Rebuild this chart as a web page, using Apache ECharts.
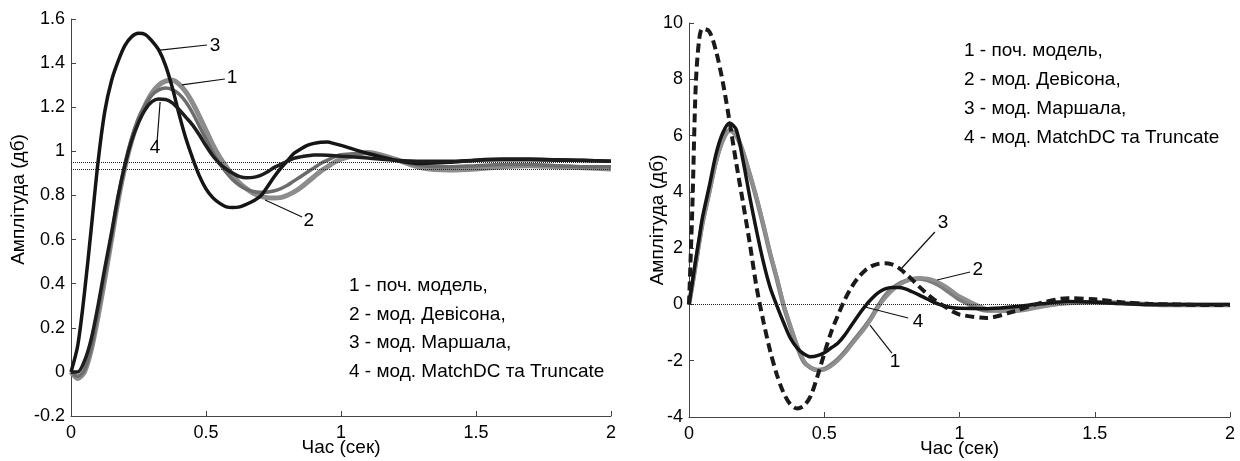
<!DOCTYPE html>
<html>
<head>
<meta charset="utf-8">
<title>Перехідні характеристики моделей</title>
<script src="https://cdn.jsdelivr.net/npm/echarts@6/dist/echarts.min.js"></script>
<style>
  html, body { margin: 0; padding: 0; background: #fff; }
  #chart { width: 1240px; height: 461px; }
</style>
</head>
<body>
<div id="chart"></div>
<script>
// час (сек), ліва панель
const tL = [0, 0.025, 0.05, 0.075, 0.1, 0.125, 0.15, 0.175, 0.2, 0.225,
  0.25, 0.275, 0.3, 0.325, 0.35, 0.375, 0.4, 0.425, 0.45, 0.475,
  0.5, 0.525, 0.55, 0.575, 0.6, 0.625, 0.65, 0.675, 0.7, 0.725,
  0.75, 0.775, 0.8, 0.825, 0.85, 0.875, 0.9, 0.925, 0.95, 0.975,
  1.0, 1.1, 1.2, 1.3, 1.4, 1.5, 1.6, 1.7, 1.8, 1.9, 2.0]

// 1 - поч. модель
const left1 = [0, -0.03, 0, 0.1, 0.25, 0.42, 0.6, 0.78, 0.93, 1.05,
  1.14, 1.21, 1.265, 1.3, 1.318, 1.322, 1.305, 1.27, 1.22, 1.16,
  1.095, 1.03, 0.975, 0.93, 0.89, 0.855, 0.83, 0.81, 0.798, 0.79,
  0.788, 0.79, 0.8, 0.815, 0.835, 0.86, 0.885, 0.91, 0.93, 0.95,
  0.965, 0.995, 0.965, 0.925, 0.915, 0.92, 0.93, 0.935, 0.93, 0.925, 0.92]
// 2 - мод. Девісона
const left2 = [0, -0.02, 0.01, 0.11, 0.27, 0.44, 0.61, 0.79, 0.94, 1.06,
  1.15, 1.21, 1.255, 1.278, 1.287, 1.28, 1.26, 1.225, 1.175, 1.115,
  1.055, 0.995, 0.945, 0.905, 0.87, 0.845, 0.828, 0.818, 0.815, 0.815,
  0.82, 0.83, 0.845, 0.865, 0.885, 0.905, 0.925, 0.945, 0.96, 0.975,
  0.985, 0.99, 0.96, 0.935, 0.93, 0.935, 0.94, 0.94, 0.935, 0.93, 0.93]
// 3 - мод. Маршала
const left3 = [0, 0.12, 0.36, 0.65, 0.95, 1.18, 1.32, 1.41, 1.48, 1.52,
  1.535, 1.53, 1.5, 1.46, 1.39, 1.29, 1.17, 1.06, 0.97, 0.89,
  0.83, 0.79, 0.765, 0.748, 0.745, 0.748, 0.76, 0.775, 0.795, 0.835,
  0.88, 0.92, 0.955, 0.99, 1.01, 1.027, 1.036, 1.041, 1.042, 1.035,
  1.027, 0.99, 0.96, 0.945, 0.95, 0.96, 0.965, 0.965, 0.962, 0.96, 0.955]
// 4 - мод. MatchDC та Truncate
const left4 = [0, 0, 0.05, 0.15, 0.3, 0.47, 0.63, 0.8, 0.94, 1.05,
  1.13, 1.19, 1.225, 1.237, 1.235, 1.22, 1.19, 1.155, 1.12, 1.075,
  1.025, 0.98, 0.945, 0.92, 0.9, 0.885, 0.88, 0.882, 0.89, 0.905,
  0.925, 0.94, 0.955, 0.968, 0.975, 0.98, 0.983, 0.983, 0.982, 0.98,
  0.978, 0.97, 0.96, 0.955, 0.955, 0.96, 0.962, 0.962, 0.96, 0.958, 0.955]

// час (сек), права панель
const tR = [0, 0.0125, 0.025, 0.0375, 0.05,
  0.075, 0.1, 0.125, 0.15, 0.175, 0.2, 0.225, 0.25, 0.275, 0.3,
  0.325, 0.35, 0.375, 0.4, 0.425, 0.45, 0.475, 0.5, 0.525, 0.55,
  0.575, 0.6, 0.625, 0.65, 0.675, 0.7, 0.725, 0.75, 0.775, 0.8,
  0.825, 0.85, 0.875, 0.9, 0.925, 0.95, 0.975, 1.0,
  1.1, 1.2, 1.3, 1.4, 1.5, 1.6, 1.7, 1.8, 1.9, 2.0]

const right1 = [0, 0.7, 1.45, 2.2, 2.9,
  4.0, 5.1, 5.85, 6.2, 6.0, 5.4, 4.6, 3.75, 2.8, 1.8,
  0.9, -0.05, -0.8, -1.5, -2.05, -2.25, -2.33, -2.3, -2.15, -1.95,
  -1.7, -1.4, -1.1, -0.8, -0.45, -0.05, 0.3, 0.55, 0.72, 0.83,
  0.9, 0.92, 0.88, 0.8, 0.68, 0.52, 0.35, 0.18,
  -0.22, -0.2, -0.05, 0.05, 0.08, 0.05, 0, -0.02, -0.02, -0.02]
const right2 = [0, 0.65, 1.4, 2.15, 2.85,
  3.95, 5.05, 5.8, 6.15, 6.0, 5.45, 4.65, 3.8, 2.85, 1.85,
  0.95, 0, -0.75, -1.45, -2.0, -2.25, -2.33, -2.32, -2.2, -2.0,
  -1.75, -1.45, -1.15, -0.85, -0.5, -0.1, 0.22, 0.48, 0.68, 0.82,
  0.9, 0.94, 0.93, 0.88, 0.78, 0.64, 0.47, 0.3,
  -0.15, -0.25, -0.1, 0.05, 0.1, 0.06, 0.02, 0, -0.02, -0.03]
const right3 = [0, 3.5, 7.8, 9.4, 9.8,
  9.7, 9.0, 7.9, 6.5, 5.0, 3.6, 2.15, 0.6, -0.6, -1.65,
  -2.5, -3.15, -3.55, -3.7, -3.6, -3.25, -2.55, -1.75, -1.0, -0.4,
  0.15, 0.6, 0.95, 1.2, 1.36, 1.44, 1.46, 1.42, 1.3, 1.1,
  0.88, 0.64, 0.42, 0.22, 0.05, -0.1, -0.25, -0.36,
  -0.48, -0.25, 0.05, 0.22, 0.18, 0.08, 0.02, 0, -0.02, -0.02]
const right4 = [0, 0.8, 1.6, 2.35, 3.1,
  4.2, 5.35, 6.1, 6.45, 6.2, 5.1, 3.8, 2.6, 1.5, 0.6,
  -0.05, -0.65, -1.2, -1.55, -1.76, -1.86, -1.82, -1.72, -1.55, -1.38,
  -1.1, -0.75, -0.4, -0.08, 0.2, 0.42, 0.55, 0.6, 0.6, 0.55,
  0.45, 0.34, 0.22, 0.1, 0, -0.07, -0.12, -0.14,
  -0.15, -0.08, 0.02, 0.1, 0.08, 0.03, 0, 0, 0, 0]

// осі: [min, max, крок]
const xRange = [0, 2, 0.5]
const yRangeL = [-0.2, 1.6, 0.2]
const yRangeR = [-4, 10, 2]
const refLinesL = [0.955, 0.92]
const refLinesR = [0]

const legendLines = [
  '1 - поч. модель,',
  '2 - мод. Девісона,',
  '3 - мод. Маршала,',
  '4 - мод. MatchDC та Truncate'
]

// підписи-номери зі стрілками (у координатах даних)
const noteTextL = ['3', '1', '4', '2']
const notePosL = [[0.533, 1.478], [0.596, 1.333], [0.311, 1.015], [0.881, 0.684]]
const arrowFromL = [[0.504, 1.482], [0.57, 1.328], [0.319, 1.047], [0.856, 0.702]]
const arrowToL = [[0.33, 1.459], [0.411, 1.301], [0.33, 1.224], [0.719, 0.779]]

const noteTextR = ['3', '2', '4', '1']
const notePosR = [[0.939, 2.893], [1.068, 1.222], [0.847, -0.626], [0.762, -2.047]]
const arrowFromR = [[0.909, 2.573], [1.039, 1.151], [0.81, -0.483], [0.75, -1.727]]
const arrowToR = [[0.787, 1.294], [0.917, 0.867], [0.651, -0.092], [0.669, -0.732]]

const FONT = '"Liberation Sans", Arial, sans-serif'
const AXIS_COLOR = '#444'
const TEXT_COLOR = '#000'

const zip = (t, v) => t.map((x, i) => [x, v[i]])

const xAxisFor = (i) => ({
  gridIndex: i,
  type: 'value',
  min: xRange[0],
  max: xRange[1],
  interval: xRange[2],
  name: 'Час (сек)',
  nameLocation: 'middle',
  nameGap: 22,
  nameMoveOverlap: false,
  nameTextStyle: { fontSize: 19, color: TEXT_COLOR },
  axisLine: { show: true, onZero: false, lineStyle: { color: AXIS_COLOR, width: 1 } },
  axisTick: { show: true, inside: true, length: 5, lineStyle: { color: AXIS_COLOR } },
  axisLabel: { fontSize: 18, color: TEXT_COLOR, margin: 8 },
  splitLine: { show: false }
})

const yAxisFor = (i, range, gap, padding) => ({
  gridIndex: i,
  type: 'value',
  min: range[0],
  max: range[1],
  interval: range[2],
  name: 'Амплітуда (дб)',
  nameLocation: 'middle',
  nameGap: gap,
  nameMoveOverlap: false,
  nameTextStyle: { fontSize: 19, color: TEXT_COLOR, padding: padding },
  axisLine: { show: true, onZero: false, lineStyle: { color: AXIS_COLOR, width: 1 } },
  axisTick: { show: true, inside: true, length: 5, lineStyle: { color: AXIS_COLOR } },
  axisLabel: { fontSize: 18, color: TEXT_COLOR, margin: 6 },
  splitLine: { show: false }
})

const curve = (i, name, t, v, color, width, type) => ({
  name: name,
  type: 'line',
  xAxisIndex: i,
  yAxisIndex: i,
  data: zip(t, v),
  showSymbol: false,
  smooth: 0.3,
  lineStyle: { color: color, width: width, type: type || 'solid' },
  silent: true
})

const refLines = (s, values) => {
  s.markLine = {
    silent: true,
    symbol: 'none',
    label: { show: false },
    lineStyle: { type: 'dotted', color: '#222', width: 1 },
    data: values.map(v => ({ yAxis: v }))
  }
  return s
}

const notes = (i, texts, pos, from, to) => ({
  type: 'scatter',
  xAxisIndex: i,
  yAxisIndex: i,
  data: pos,
  symbolSize: 1,
  itemStyle: { color: 'transparent', opacity: 1 },
  silent: true,
  z: 10,
  label: {
    show: true,
    position: 'inside',
    fontSize: 19,
    color: TEXT_COLOR,
    opacity: 1,
    textBorderWidth: 0,
    textBorderColor: 'transparent',
    formatter: (p) => texts[p.dataIndex]
  },
  markLine: {
    silent: true,
    symbol: ['none', 'arrow'],
    symbolSize: [0, 8],
    label: { show: false },
    lineStyle: { type: 'solid', color: '#111', width: 1.2 },
    data: from.map((f, k) => [{ coord: f }, { coord: to[k] }])
  }
})

const chart = echarts.init(document.getElementById('chart'))

const option = {
  animation: false,
  backgroundColor: '#fff',
  textStyle: { fontFamily: FONT },
  title: [
    {
      left: 349, top: 272, padding: 0,
      text: legendLines.join('\n'),
      textStyle: { fontSize: 19, fontWeight: 'normal', color: TEXT_COLOR, lineHeight: 28.5, fontFamily: FONT }
    },
    {
      left: 964, top: 36, padding: 0,
      text: legendLines.join('\n'),
      textStyle: { fontSize: 19, fontWeight: 'normal', color: TEXT_COLOR, lineHeight: 29, fontFamily: FONT }
    }
  ],
  grid: [
    { left: 71, top: 19, width: 540, height: 397, outerBoundsMode: 'none' },
    { left: 689, top: 23, width: 541, height: 394, outerBoundsMode: 'none' }
  ],
  xAxis: [xAxisFor(0), xAxisFor(1)],
  yAxis: [
    yAxisFor(0, yRangeL, 43, [0, 0, 0, 36]),
    yAxisFor(1, yRangeR, 22, 0)
  ],
  series: [
    refLines(curve(0, '1 - поч. модель', tL, left1, '#8c8c8c', 5), refLinesL),
    curve(0, '2 - мод. Девісона', tL, left2, '#6c6c6c', 3.5),
    curve(0, '3 - мод. Маршала', tL, left3, '#151515', 3.5),
    curve(0, '4 - мод. MatchDC та Truncate', tL, left4, '#1d1d1d', 3.5),
    notes(0, noteTextL, notePosL, arrowFromL, arrowToL),

    refLines(curve(1, '1 - поч. модель', tR, right1, '#7d7d7d', 4.5), refLinesR),
    curve(1, '2 - мод. Девісона', tR, right2, '#8f8f8f', 3.5),
    curve(1, '4 - мод. MatchDC та Truncate', tR, right4, '#141414', 3.5),
    curve(1, '3 - мод. Маршала', tR, right3, '#1a1a1a', 4, [9, 5]),
    notes(1, noteTextR, notePosR, arrowFromR, arrowToR)
  ]
}

chart.setOption(option)
window.addEventListener('resize', () => chart.resize())
</script>
</body>
</html>
